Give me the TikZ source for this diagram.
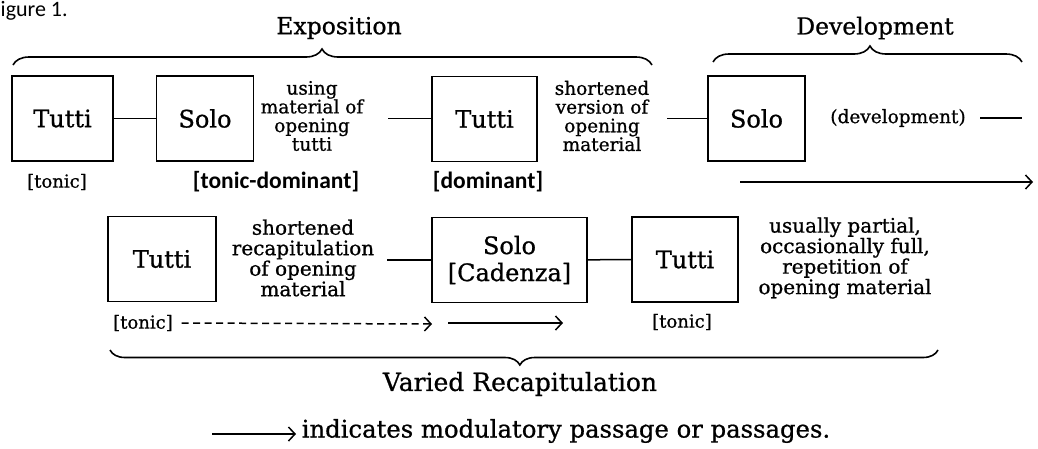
\documentclass[tikz,border=0pt]{standalone}
\usepackage{fontspec}
\setmainfont{DejaVu Serif}[FakeBold=0.8]
\newfontfamily\calib{Carlito}
\usetikzlibrary{arrows.meta,decorations.pathreplacing}
\begin{document}
\begin{tikzpicture}[x=1pt,y=-1pt, line width=1.5pt,
  box/.style={draw, minimum height=85pt, inner sep=0pt, align=center, font=\fontsize{24}{28}\selectfont},
  note/.style={align=center, inner sep=0pt, font=\fontsize{18.5}{18.7}\selectfont},
  notetwo/.style={align=center, inner sep=0pt, font=\fontsize{20}{20.5}\selectfont},
  key/.style={inner sep=0pt, font=\calib\bfseries\fontsize{23.5}{26}\selectfont},
  keyserif/.style={inner sep=0pt, font=\fontsize{18}{20}\selectfont},
  title/.style={inner sep=0pt, font=\fontsize{23.5}{26}\selectfont},
  modarrow/.style={-{Straight Barb[length=6.5pt,width=14pt]}},
  brc/.style={decorate, decoration={brace, amplitude=#1}, line width=1.6pt},
]
\useasboundingbox (0,0) rectangle (1038,448);

% caption fragment
\node[anchor=base west, inner sep=0pt, font=\calib\fontsize{22}{24}\selectfont] (fig) at (0,16) {igure 1.};

% section titles and braces
\node[title] (expo) at (339,28) {Exposition};
\node[title] (devt) at (875,28) {Development};
\coordinate (eb1) at (13,65);
\coordinate (eb2) at (652,65);
\coordinate (db1) at (713,62);
\coordinate (db2) at (1022,62);
\draw[brc=16pt, decoration={aspect=0.4836}] (eb1) -- (eb2);
\draw[brc=16pt, decoration={aspect=0.508}] (db1) -- (db2);

% row 1
\node[box, minimum width=101pt] (t1) at (62.5,118.5) {Tutti};
\node[box, minimum width=97pt] (s1) at (205,118.5) {Solo};
\node[note] (n1) at (312,116) {using\\material of\\opening\\tutti};
\node[box, minimum width=105pt] (t2) at (484.5,119) {Tutti};
\node[note] (n2) at (602,116) {shortened\\version of\\opening\\material};
\node[box, minimum width=97pt] (s2) at (756.5,118.5) {Solo};
\node[note] (dv) at (898,118) {(development)};
\coordinate (c1) at (388,118.5);
\coordinate (c2) at (667,118.5);
\coordinate (c3) at (980,118);
\coordinate (c4) at (1022,118);
\draw (t1) -- (s1);
\draw (c1) -- (c1 -| t2.west);
\draw (c2) -- (c2 -| s2.west);
\draw (c3) -- (c4);
\coordinate (a1) at (740,182);
\coordinate (a2) at (1033,182);
\draw[modarrow] (a1) -- (a2);

\node[keyserif] (k1) at (57,182) {[tonic]};
\node[key] (k2) at (276,182) {[tonic-dominant]};
\node[key] (k3) at (488,182) {[dominant]};

% row 2
\node[box, minimum width=108pt] (t3) at (162,259) {Tutti};
\node[notetwo] (n3) at (303,258) {shortened\\recapitulation\\of opening\\material};
\node[box, minimum width=155pt] (cad) at (509.5,260) {Solo\\[-1pt][Cadenza]};
\node[box, minimum width=106pt] (t4) at (685,259.5) {Tutti};
\node[notetwo] (n4) at (845,258) {usually partial,\\occasionally full,\\repetition of\\opening material};
\coordinate (c5) at (387,260);
\draw (c5) -- (c5 -| cad.west);
\draw (cad) -- (t4);

\node[keyserif] (k4) at (143,323) {[tonic]};
\node[keyserif] (k5) at (682,322) {[tonic]};
\coordinate (d2) at (432,324);
\draw[modarrow, dash pattern=on 7pt off 4.5pt] ([xshift=8pt]k4.east) -- (d2);
\coordinate (m1) at (448,323);
\coordinate (m2) at (563,323);
\draw[modarrow] (m1) -- (m2);

% bottom brace
\coordinate (bb1) at (938,350);
\coordinate (bb2) at (110,350);
\draw[brc=15pt, decoration={aspect=0.505}] (bb1) -- (bb2);
\node[title, font=\fontsize{25}{28}\selectfont] (vr) at (520,384) {Varied Recapitulation};

% legend
\node[anchor=west, inner sep=0pt, font=\fontsize{24.3}{27}\selectfont] (leg) at (301,431) {indicates modulatory passage or passages.};
\coordinate (l1) at (212,434);
\draw[modarrow] (l1) -- ([xshift=-5pt]l1 -| leg.west);
\end{tikzpicture}
\end{document}
